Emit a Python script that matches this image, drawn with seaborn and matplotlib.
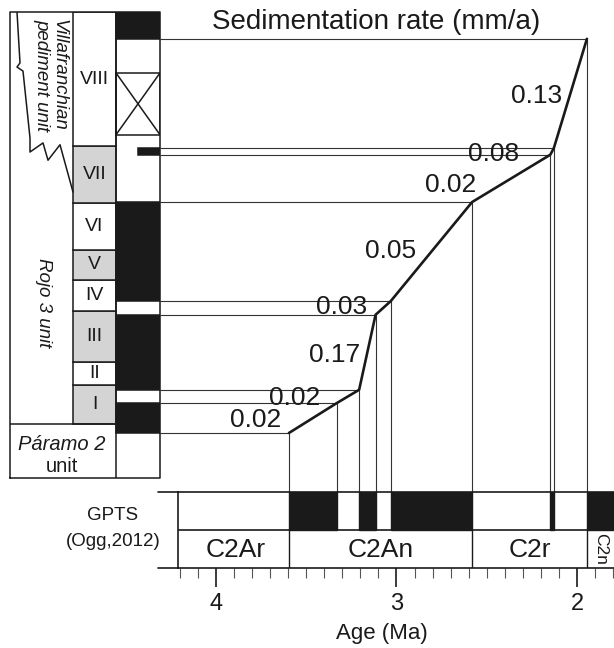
import numpy as np
import pandas as pd
import matplotlib
matplotlib.use("Agg")
import matplotlib.pyplot as plt
from matplotlib.patches import Rectangle
from matplotlib.ticker import MultipleLocator
import seaborn as sns

# ---------------- data ----------------
# tie points section <-> GPTS : age (Ma) and stratigraphic height (m)
tie_age = [3.596, 3.330, 3.207, 3.116, 3.032, 2.581, 2.148, 2.128, 1.945]
tie_height = [9.9, 16.5, 19.4, 35.9, 38.9, 60.7, 71.1, 72.6, 96.6]
rate_labels = ["0.02", "0.02", "0.17", "0.03", "0.05", "0.02", "0.08", "0.13"]

section_top = 102.5
subunit_names = ["I", "II", "III", "IV", "V", "VI", "VII", "VIII"]
subunit_base = [11.9, 20.5, 25.5, 36.7, 43.6, 50.2, 60.5, 73.0]
subunit_top = [20.5, 25.5, 36.7, 43.6, 50.2, 60.5, 73.0, 102.5]
subunit_grey = [True, False, True, False, True, False, True, False]

# local magnetostratigraphy (normal polarity = black)
mag_normal_base = [9.9, 19.4, 38.9, 96.6]
mag_normal_top = [16.5, 35.9, 60.7, 102.5]
mag_event_base = [71.1]
mag_event_top = [72.6]
mag_gap_base = [75.5]
mag_gap_top = [89.1]

# GPTS (Ogg, 2012)
gpts_normal_old = [3.596, 3.207, 3.032, 2.148, 1.945]
gpts_normal_young = [3.330, 3.116, 2.581, 2.128, 1.778]
chron_names = ["C2Ar", "C2An", "C2r", "C2n"]
chron_old = [4.187, 3.596, 2.581, 1.945]
chron_young = [3.596, 2.581, 1.945, 1.778]

age_ticks = [4, 3, 2]

# ---------------- style ----------------
sns.set_theme(style="white")
plt.rcParams["font.family"] = ["Liberation Sans", "DejaVu Sans"]
INK = "#1a1a1a"
GREY = "#d4d4d4"

W, H = 614, 648
fig = plt.figure(figsize=(W / 100, H / 100), dpi=100)
fig.patch.set_facecolor("white")


def rect(x0, y0, x1, y1):
    return [x0 / W, 1 - y1 / H, (x1 - x0) / W, (y1 - y0) / H]


M_PER_PX = 0.22
AGE_PER_PX = 1 / 180.5
age_left_main = 4 + (216 - 160) * AGE_PER_PX
age_right = 2 - (614 - 577) * AGE_PER_PX
age_left_gpts = 4 + (216 - 178) * AGE_PER_PX

# ---------- main age-height axes ----------
ax = fig.add_axes(rect(160, 12, 614, 492))
ax.set_xlim(age_left_main, age_right)
ax.set_ylim(-(492 - 478) * M_PER_PX, section_top)
ax.axis("off")

ax.hlines(tie_height, xmin=age_left_main, xmax=tie_age, color="#333333", lw=0.8)
ax.vlines(tie_age, ymin=ax.get_ylim()[0], ymax=tie_height, color="#333333", lw=0.8)

df = pd.DataFrame({"age": tie_age, "height": tie_height})
sns.lineplot(data=df, x="age", y="height", ax=ax, color=INK, lw=1.9,
             sort=False, estimator=None, legend=False)
ax.set_xlabel("")
ax.set_ylabel("")

label_offsets_px = [(-57, 0), (-53, -1), (-33, 0), (-42, -3), (-41, -3),
                    (-61, 4), (-59, 0), (-34, 0)]
for i, lab in enumerate(rate_labels):
    mx = (tie_age[i] + tie_age[i + 1]) / 2
    my = (tie_height[i] + tie_height[i + 1]) / 2
    dx, dy = label_offsets_px[i]
    ax.annotate(lab, (mx, my), xytext=(dx * 0.72, -dy * 0.72),
                textcoords="offset points", ha="center", va="center_baseline",
                fontsize=19, color=INK)

fig.text(376 / W, 1 - 22 / H, "Sedimentation rate (mm/a)", ha="center",
         va="center", fontsize=20, color=INK)

# ---------- stratigraphic column ----------
axs = fig.add_axes(rect(10, 12, 160, 478))
axs.set_xlim(0, 150)
axs.set_ylim(0, section_top)
axs.axis("off")
LW = 1.1
c_unit, c_sub, c_pol, c_end = 0, 63, 106, 150

for name, b, t, g in zip(subunit_names, subunit_base, subunit_top, subunit_grey):
    axs.add_patch(Rectangle((c_sub, b), c_pol - c_sub, t - b,
                            fc=GREY if g else "white", ec=INK, lw=LW))
    axs.text((c_sub + c_pol) / 2, (b + t) / 2, name, ha="center",
             va="center", fontsize=14, color=INK)

for b, t in zip(mag_normal_base, mag_normal_top):
    axs.add_patch(Rectangle((c_pol, b), c_end - c_pol, t - b, fc=INK, ec=INK, lw=LW))
for b, t in zip(mag_event_base, mag_event_top):
    axs.add_patch(Rectangle((128, b), c_end - 128, t - b, fc=INK, ec=INK, lw=LW))
for b, t in zip(mag_gap_base, mag_gap_top):
    axs.add_patch(Rectangle((c_pol, b), c_end - c_pol, t - b, fc="none", ec=INK, lw=LW))
    axs.plot([c_pol, c_end], [b, t], color=INK, lw=LW)
    axs.plot([c_pol, c_end], [t, b], color=INK, lw=LW)

# frames
axs.plot([c_unit, c_end, c_end, c_unit, c_unit], [0, 0, section_top, section_top, 0],
         color=INK, lw=LW, clip_on=False)
axs.plot([c_pol, c_pol], [0, section_top], color=INK, lw=LW)
axs.plot([c_unit, c_pol], [subunit_base[0], subunit_base[0]], color=INK, lw=LW)

# zigzag boundary between Villafranchian and Rojo 3
zz_x = [7, 10, 7, 13, 20, 20, 33, 38, 50, 63]
zz_y = [102.5, 91.3, 90.4, 89.5, 74.8, 71.7, 73.7, 69.9, 73.3, 62.9]
axs.plot(zz_x, zz_y, color=INK, lw=LW)

axs.text(40, 88.7, "Villafranchian\npediment unit", rotation=270, ha="center",
         va="center", fontsize=13.5, style="italic", color=INK,
         multialignment="center", linespacing=1.0)
axs.text(33, 38.5, "Rojo 3 unit", rotation=270, ha="center", va="center",
         fontsize=13.5, style="italic", color=INK)
axs.text(52, (478 - 445) * M_PER_PX, "Páramo 2", ha="center", va="center",
         fontsize=14.5, style="italic", color=INK)
axs.text(52, (478 - 467) * M_PER_PX, "unit", ha="center", va="center",
         fontsize=14.5, color=INK)

# ---------- GPTS ----------
axg = fig.add_axes(rect(178, 492, 614, 568))
axg.set_xlim(age_left_gpts, age_right)
axg.set_ylim(0, 2)
for s in ["left", "top", "bottom"]:
    axg.spines[s].set_visible(True)
    axg.spines[s].set_color(INK)
    axg.spines[s].set_linewidth(1.2)
axg.spines["right"].set_visible(False)
axg.set_facecolor("white")

for o, y in zip(gpts_normal_old, gpts_normal_young):
    axg.add_patch(Rectangle((o, 1), y - o, 1, fc=INK, ec=INK, lw=1.0))
axg.axhline(1, color=INK, lw=1.2)
for name, o, y in zip(chron_names, chron_old, chron_young):
    o_vis = min(o, age_left_gpts)
    y_vis = max(y, age_right)
    if y > age_right:
        axg.plot([y, y], [0, 1], color=INK, lw=1.0)
    if name == "C2n":
        axg.text((o_vis + y_vis) / 2, 0.5, name, rotation=270, ha="center",
                 va="center", fontsize=12.5, color=INK)
    else:
        axg.text((o_vis + y_vis) / 2, 0.47, name, ha="center", va="center",
                 fontsize=19, color=INK)

ext = (158 - 178) / 436
axg.plot([ext, 0], [1, 1], transform=axg.transAxes, color=INK, lw=1.2, clip_on=False)
axg.plot([ext, 0], [0, 0], transform=axg.transAxes, color=INK, lw=1.2, clip_on=False)

axg.set_xticks(age_ticks)
axg.set_xticklabels([str(t) for t in age_ticks])
axg.xaxis.set_minor_locator(MultipleLocator(0.1))
axg.set_yticks([])
axg.tick_params(axis="x", which="major", direction="out", length=14, width=1.2,
                colors=INK, labelsize=17, pad=4, bottom=True)
axg.tick_params(axis="x", which="minor", direction="out", length=7, width=0.8,
                colors="#555555", bottom=True)

fig.text(113 / W, 1 - 516 / H, "GPTS", ha="center", va="center", fontsize=13.5, color=INK)
fig.text(113 / W, 1 - 541 / H, "(Ogg,2012)", ha="center", va="center", fontsize=13.5, color=INK)
fig.text(382 / W, 1 - 633 / H, "Age (Ma)", ha="center", va="center", fontsize=16, color=INK)

fig.savefig("out.png", dpi=100, facecolor="white")
